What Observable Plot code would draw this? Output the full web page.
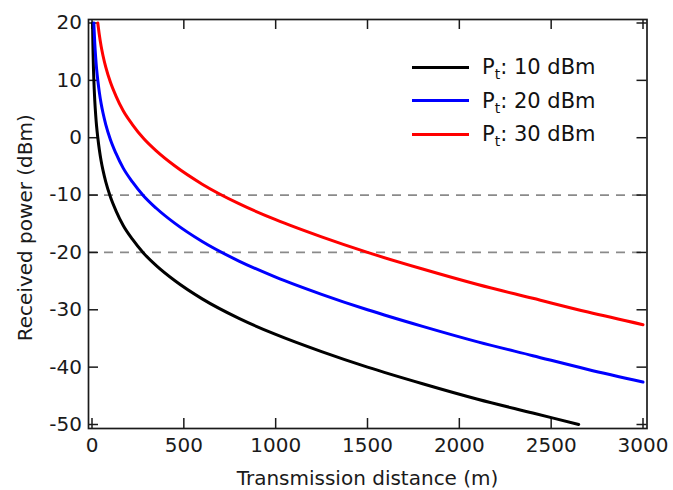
<!DOCTYPE html>
<html>
<head>
<meta charset="utf-8">
<script src="https://cdn.jsdelivr.net/npm/d3@7"></script>
<script src="https://cdn.jsdelivr.net/npm/@observablehq/plot@0.6"></script>
<style>
  html, body { margin: 0; padding: 0; background: #fff; }
  #wrap { position: relative; width: 673px; height: 490px; font-family: "DejaVu Sans", sans-serif; }
  .leg { position: absolute; left: 412px; display: flex; align-items: center; height: 30px; color: #111; font-size: 21px; white-space: nowrap; }
  .leg .sw { width: 57px; height: 3px; margin-right: 13px; }
  .leg sub { font-size: 14px; position: relative; top: 5px; vertical-align: baseline; line-height: 0; }
</style>
</head>
<body>
<div id="wrap"></div>
<script>
// ---- data ----
const xTicks = [0, 500, 1000, 1500, 2000, 2500, 3000];
const yTicks = [-50, -40, -30, -20, -10, 0, 10, 20];
const thresholds = [-10, -20];
const seriesNames = ["Pt: 10 dBm", "Pt: 20 dBm", "Pt: 30 dBm"];
const seriesColors = ["#000000", "#0000ff", "#ff0000"];
const xLabel = "Transmission distance (m)";
const yLabel = "Received power (dBm)";

// Pt = 10 dBm (black)
const dist10  = [3.2, 4, 5, 6, 8, 10, 12, 15, 20, 25, 32, 40, 50, 60, 75, 100, 130, 170, 220, 280, 350, 450, 600, 800, 1000, 1250, 1500, 1800, 2100, 2400, 2650];
const power10 = [20, 18.1, 16.1, 14.5, 12.0, 10.1, 8.5, 6.5, 4.0, 2.0, -0.1, -2.1, -4.1, -5.7, -7.7, -10.3, -12.7, -15.3, -17.7, -20.1, -22.3, -24.9, -28.1, -31.5, -34.3, -37.3, -40.0, -42.9, -45.6, -48.0, -50.0];

// Pt = 20 dBm (blue)
const dist20  = [10, 12, 15, 20, 25, 32, 40, 50, 60, 75, 100, 130, 170, 220, 280, 350, 450, 600, 800, 1000, 1250, 1500, 1800, 2100, 2400, 2700, 3000];
const power20 = [20, 18.5, 16.5, 14.0, 12.0, 9.9, 7.9, 5.9, 4.3, 2.3, -0.3, -2.7, -5.3, -7.7, -10.1, -12.3, -14.9, -18.1, -21.5, -24.3, -27.3, -30.0, -32.9, -35.6, -38.0, -40.4, -42.6];

// Pt = 30 dBm (red)
const dist30  = [31.5, 40, 50, 60, 75, 100, 130, 170, 220, 280, 350, 450, 600, 800, 1000, 1250, 1500, 1800, 2100, 2400, 2700, 3000];
const power30 = [20, 17.9, 15.9, 14.3, 12.3, 9.7, 7.3, 4.7, 2.3, -0.1, -2.3, -4.9, -8.1, -11.5, -14.3, -17.3, -20.0, -22.9, -25.6, -28.0, -30.4, -32.6];

// ---- build table ----
const rows = [];
[[dist10, power10], [dist20, power20], [dist30, power30]].forEach(([ds, ps], k) => {
  ds.forEach((d, i) => rows.push({series: seriesNames[k], d, p: ps[i]}));
});

// ---- layout ----
const W = 673, H = 490;
const mL = 91.5, mR = 30.5, mT = 22.5, mB = 66;
const fw = W - mL - mR, fh = H - mT - mB;
const fL = 3.5, fR = 4, fT = 3.5, fB = 4;   // frame offset outside data range
const tl = 10;                               // inward tick length
const ink = "#1a1a1a";

const chart = Plot.plot({
  width: W,
  height: H,
  marginLeft: mL,
  marginRight: mR,
  marginTop: mT,
  marginBottom: mB,
  style: {fontFamily: "DejaVu Sans, sans-serif", fontSize: "20px", color: ink, background: "#fff", overflow: "visible"},
  x: {domain: [0, 3000]},
  y: {domain: [-50, 20]},
  color: {domain: seriesNames, range: seriesColors},
  marks: [
    Plot.ruleY(thresholds, {y: d => d, stroke: "#8a8a8a", strokeWidth: 1.8, strokeDasharray: "9,7",
      insetLeft: -fL, insetRight: -fR}),
    Plot.frame({stroke: ink, strokeWidth: 1.7, insetLeft: -fL, insetRight: -fR, insetTop: -fT, insetBottom: -fB}),
    // inward ticks on all four sides
    Plot.ruleX(xTicks, {x: d => d, stroke: ink, strokeWidth: 1.5, insetBottom: -fB, insetTop: fh - (tl - fB)}),
    Plot.ruleX(xTicks, {x: d => d, stroke: ink, strokeWidth: 1.5, insetTop: -fT, insetBottom: fh - (tl - fT)}),
    Plot.ruleY(yTicks, {y: d => d, stroke: ink, strokeWidth: 1.5, insetLeft: -fL, insetRight: fw - (tl - fL)}),
    Plot.ruleY(yTicks, {y: d => d, stroke: ink, strokeWidth: 1.5, insetRight: -fR, insetLeft: fw - (tl - fR)}),
    Plot.line(rows, {x: "d", y: "p", z: "series", stroke: "series", strokeWidth: 3, curve: "monotone-x"}),
    Plot.axisX({ticks: xTicks, tickSize: 0, tickPadding: 13, label: null, tickFormat: d => String(d)}),
    Plot.axisY({ticks: yTicks, tickSize: 0, tickPadding: 10, label: null, tickFormat: d => String(d)}),
    Plot.text([xLabel], {text: d => d, frameAnchor: "bottom", textAnchor: "middle", dy: 60, lineAnchor: "bottom", fill: ink}),
    Plot.text([yLabel], {text: d => d, frameAnchor: "left", textAnchor: "middle", rotate: -90, dx: -60, dy: 4, lineAnchor: "bottom", fill: ink})
  ]
});

const wrap = document.getElementById("wrap");
wrap.appendChild(chart);

// legend (inside the plot, top right)
const legTops = [67, 100.7, 134.3];
seriesNames.forEach((name, k) => {
  const item = document.createElement("div");
  item.className = "leg";
  item.style.top = (legTops[k] - 15) + "px";
  const sw = document.createElement("div");
  sw.className = "sw";
  sw.style.background = seriesColors[k];
  const tx = document.createElement("span");
  const rest = name.slice(2); // ": 10 dBm"
  tx.innerHTML = "P<sub>t</sub>" + rest;
  item.appendChild(sw);
  item.appendChild(tx);
  wrap.appendChild(item);
});
</script>
</body>
</html>
